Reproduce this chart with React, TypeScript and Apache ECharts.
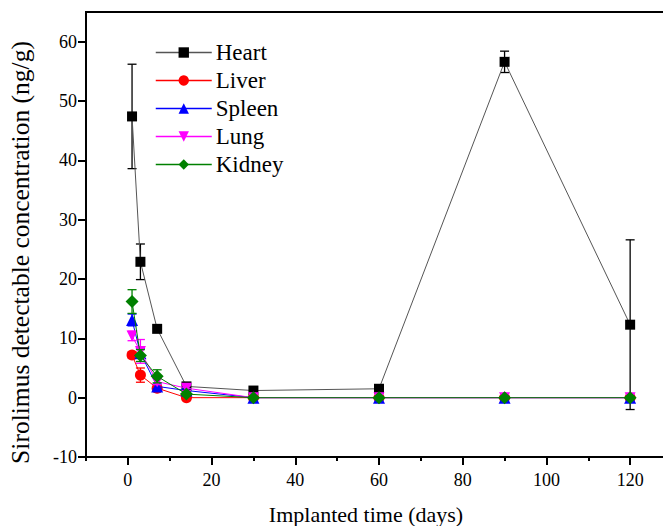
import React, { useEffect, useRef } from "react";
import * as echarts from "echarts";

const days = [1, 3, 7, 14, 30, 60, 90, 120];
const seriesNames = ["Heart", "Liver", "Spleen", "Lung", "Kidney"];
const heart = [47.4, 22.9, 11.6, 1.9, 1.2, 1.5, 56.6, 12.3];
const heartErr = [8.8, 3.0, 0, 0.4, 0, 0, 1.8, 14.3];
const liver = [7.2, 3.8, 1.6, 0, 0, 0, 0, 0];
const liverErr = [0.5, 1.2, 0.3, 0, 0, 0, 0, 0];
const spleen = [13.1, 7.5, 1.9, 1.2, 0, 0, 0, 0];
const spleenErr = [1.0, 0.8, 0.4, 0.3, 0, 0, 0, 0];
const lung = [10.4, 7.8, 2.7, 1.6, 0, 0, 0, 0];
const lungErr = [0.8, 2.0, 0.5, 0.4, 0, 0, 0, 0];
const kidney = [16.2, 7.1, 3.6, 0.6, 0, 0, 0, 0];
const kidneyErr = [2.0, 1.0, 1.1, 0.3, 0, 0, 0, 0];
const xMajorTicks = [0, 20, 40, 60, 80, 100, 120];
const xMinorTicks = [-10, 10, 30, 50, 70, 90, 110, 130];
const yMajorTicks = [-10, 0, 10, 20, 30, 40, 50, 60];
const yMinorTicks = [-5, 5, 15, 25, 35, 45, 55];

const colors = ["#000000", "#ff0000", "#0000ff", "#ff00ff", "#008000"];
const symbols = [
  "rect",
  "circle",
  "triangle",
  "path://M0,0 L10,0 L5,9 Z",
  "diamond",
];
const symbolSizes = [10, 11, 12, 11, 13];
const values = [heart, liver, spleen, lung, kidney];
const errs = [heartErr, liverErr, spleenErr, lungErr, kidneyErr];

const FONT = "Times New Roman, Liberation Serif, DejaVu Serif, serif";
const GRID = { left: 86, top: 12, width: 586, height: 445 };

export default function App() {
  const ref = useRef<HTMLDivElement>(null);
  useEffect(() => {
    if (!ref.current) return;
    const chart = echarts.init(ref.current, undefined, { renderer: "svg" });
    const series: any[] = [];
    seriesNames.forEach((name, i) => {
      const color = colors[i];
      series.push({
        name: name + " err",
        type: "custom",
        xAxisIndex: 0,
        yAxisIndex: 0,
        z: 2 + i * 2,
        silent: true,
        data: days.map((d, k) => [d, values[i][k], errs[i][k]]),
        renderItem: (params: any, api: any) => {
          const x = api.value(0);
          const y = api.value(1);
          const e = api.value(2);
          if (!e) return { type: "group", children: [] };
          const hi = api.coord([x, y + e]);
          const lo = api.coord([x, y - e]);
          const half = 4.5;
          const style = { stroke: color, lineWidth: 1.3, fill: null };
          return {
            type: "group",
            children: [
              { type: "line", shape: { x1: hi[0], y1: hi[1], x2: lo[0], y2: lo[1] }, style },
              { type: "line", shape: { x1: hi[0] - half, y1: hi[1], x2: hi[0] + half, y2: hi[1] }, style },
              { type: "line", shape: { x1: lo[0] - half, y1: lo[1], x2: lo[0] + half, y2: lo[1] }, style },
            ],
          };
        },
      });
      series.push({
        name,
        type: "line",
        xAxisIndex: 0,
        yAxisIndex: 0,
        z: 3 + i * 2,
        data: days.map((d, k) => [d, values[i][k]]),
        symbol: symbols[i],
        symbolSize: symbolSizes[i],
        showAllSymbol: true,
        itemStyle: { color, borderWidth: 0 },
        lineStyle: { color: i === 0 ? "#555555" : color, width: 1 },
      });
    });

    const axisLineStyle = { color: "#000", width: 2 };
    const tickStyle = { color: "#000", width: 2 };

    const option: any = {
      animation: false,
      textStyle: { fontFamily: FONT },
      grid: {
        ...GRID,
        containLabel: false,
        outerBoundsMode: "none",
        show: true,
        borderColor: "#000",
        borderWidth: 2,
        backgroundColor: "transparent",
      },
      legend: {
        data: seriesNames,
        orient: "vertical",
        left: 150,
        top: 36,
        itemWidth: 56,
        itemHeight: 13,
        itemGap: 5,
        lineStyle: { width: 1.5 },
        textStyle: { fontFamily: FONT, fontSize: 23, color: "#000", lineHeight: 22, padding: [0, 0, 0, -1] },
      },
      xAxis: [
        {
          type: "value",
          min: -10,
          max: 130,
          interval: 10,
          name: "Implanted time (days)",
          nameLocation: "middle",
          nameGap: 46,
          nameTextStyle: { fontFamily: FONT, fontSize: 22, color: "#000", padding: [0, 26, 0, 0] },
          axisLine: { show: true, onZero: false, lineStyle: axisLineStyle },
          axisTick: { show: true, inside: false, length: 8, customValues: xMajorTicks, lineStyle: tickStyle },
          axisLabel: {
            fontFamily: FONT,
            fontSize: 18,
            color: "#000",
            margin: 14,
            customValues: xMajorTicks,
            formatter: (v: number) => String(v),
          },
          splitLine: { show: false },
        },
        {
          type: "value",
          position: "top",
          offset: -GRID.height,
          min: -10,
          max: 130,
          interval: 10,
          axisLine: { show: false },
          axisTick: { show: true, inside: true, length: 4, customValues: xMinorTicks, lineStyle: tickStyle },
          axisLabel: { show: false },
          splitLine: { show: false },
        },
      ],
      yAxis: [
        {
          type: "value",
          min: -10,
          max: 65,
          interval: 10,
          name: "Sirolimus detectable concentration (ng/g)",
          nameLocation: "middle",
          nameGap: 53,
          nameTextStyle: { fontFamily: FONT, fontSize: 25.5, color: "#000", padding: [0, 36, 0, 0] },
          axisLine: { show: true, onZero: false, lineStyle: axisLineStyle },
          axisTick: { show: true, inside: false, length: 8, customValues: yMajorTicks, lineStyle: tickStyle },
          axisLabel: {
            fontFamily: FONT,
            fontSize: 18,
            color: "#000",
            margin: 9,
            customValues: yMajorTicks,
            formatter: (v: number) => String(v),
          },
          splitLine: { show: false },
        },
        {
          type: "value",
          position: "right",
          offset: -GRID.width,
          min: -10,
          max: 65,
          interval: 10,
          axisLine: { show: false },
          axisTick: { show: true, inside: true, length: 4, customValues: yMinorTicks, lineStyle: tickStyle },
          axisLabel: { show: false },
          splitLine: { show: false },
        },
      ],
      series,
    };
    chart.setOption(option);
    return () => chart.dispose();
  }, []);
  return (
    <div style={{ position: "fixed", left: 0, top: 0, width: 663, height: 526, overflow: "hidden", background: "#fff" }}>
      <div ref={ref} style={{ width: 700, height: 526 }} />
    </div>
  );
}
